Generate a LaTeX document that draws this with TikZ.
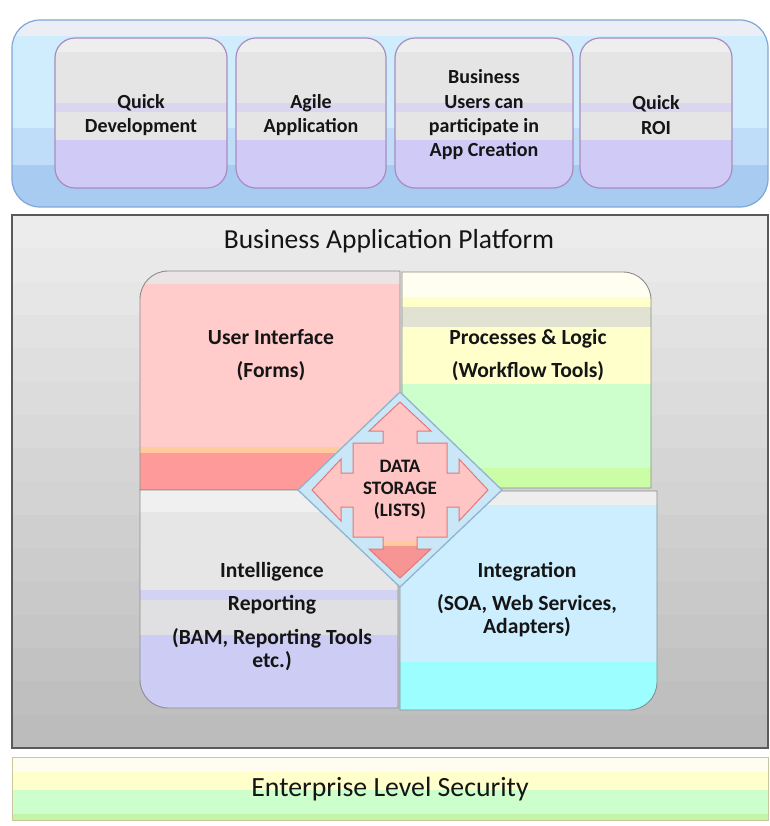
\documentclass[tikz,border=0pt]{standalone}
\usepackage{fontspec}
\setmainfont{Carlito}
\definecolor{txt}{HTML}{151515}
\definecolor{outeredge}{HTML}{7EA6D8}
\definecolor{outtop}{HTML}{EBEFF5}
\definecolor{outcyan}{HTML}{CFEDFD}
\definecolor{outmid}{HTML}{BFDDF8}
\definecolor{outbot}{HTML}{A8CBF1}
\definecolor{boxedge}{HTML}{A98BBF}
\definecolor{boxgray}{HTML}{E5E5E5}
\definecolor{boxtop}{HTML}{EEEEEE}
\definecolor{boxband}{HTML}{DAD6F0}
\definecolor{boxlav}{HTML}{CFCBF6}
\definecolor{gtop}{HTML}{ECECEC}
\definecolor{gbot}{HTML}{BCBCBC}
\definecolor{gedge}{HTML}{5A5A5A}
\definecolor{qedge}{HTML}{8C8C8C}
\definecolor{uitop}{HTML}{EAE4E4}
\definecolor{uipink}{HTML}{FFCBCB}
\definecolor{uiorange}{HTML}{FFCB9C}
\definecolor{uisalmon}{HTML}{FF9A9A}
\definecolor{plcream}{HTML}{FFFEF0}
\definecolor{plyel}{HTML}{FFFFCC}
\definecolor{plbeige}{HTML}{E2E2D2}
\definecolor{plgreen}{HTML}{CCFFCC}
\definecolor{pllime}{HTML}{CBFCA6}
\definecolor{irtop}{HTML}{F0F0F0}
\definecolor{irgray}{HTML}{E6E6E6}
\definecolor{irlav}{HTML}{D2D2F4}
\definecolor{irmid}{HTML}{E0E0E2}
\definecolor{irbot}{HTML}{CCCCF5}
\definecolor{intop}{HTML}{EEEEEE}
\definecolor{inblue}{HTML}{CCEEFF}
\definecolor{incyan}{HTML}{9CFEFE}
\definecolor{dfill}{HTML}{C9E7F7}
\definecolor{dedge}{HTML}{8DB5CF}
\definecolor{apink}{HTML}{FFC4C4}
\definecolor{aorange}{HTML}{FFCB9C}
\definecolor{asalmon}{HTML}{F79494}
\definecolor{aedge}{HTML}{E07A7A}
\definecolor{secedge}{HTML}{C8C89C}
\definecolor{sectop}{HTML}{FFFDF0}
\definecolor{secyel}{HTML}{FFFFCC}
\definecolor{secgreen}{HTML}{CCFFCC}
\definecolor{seclime}{HTML}{C4F4A8}
\begin{document}
\begin{tikzpicture}[x=1bp,y=-1bp,
  topboxedge/.style={draw=boxedge, line width=1.2bp, rounded corners=20bp},
  boxtext/.style={font=\bfseries\fontsize{20bp}{24.3bp}\selectfont, align=center, text=txt, inner sep=0pt},
  quadtext/.style={font=\bfseries\fontsize{21.6bp}{23bp}\selectfont, align=center, text=txt, inner sep=0pt},
  qborder/.style={draw=qedge, line width=0.9bp},
  bigtext/.style={font=\fontsize{27.5bp}{30bp}\selectfont, text=txt, inner sep=0pt},
]
\useasboundingbox (0,0) rectangle (770,826);
\fill[white] (0,0) rectangle (770,826);

% ---------- top container ----------
\begin{scope}
  \clip[rounded corners=28bp] (12,20) rectangle (768,207);
  \fill[outcyan] (12,20) rectangle (768,207);
  \fill[outtop] (12,20) rectangle (768,36);
  \fill[outmid] (12,128) rectangle (768,165);
  \fill[outbot] (12,165) rectangle (768,207);
\end{scope}
\draw[draw=outeredge, line width=1.2bp, rounded corners=28bp] (12,20) rectangle (768,207);

\foreach \n/\xa/\xb/\t in {qdev/55/227/{Quick\\Development},
                           agile/236/386/{Agile\\Application},
                           busu/395/573/{Business\\Users can\\participate in\\App Creation},
                           roi/580/732/{Quick\\ROI}} {
  \begin{scope}
    \clip[rounded corners=20bp] (\xa,38) rectangle (\xb,188);
    \fill[boxgray] (\xa,38) rectangle (\xb,188);
    \fill[boxtop] (\xa,38) rectangle (\xb,52);
    \fill[boxband] (\xa,103) rectangle (\xb,112);
    \fill[boxlav] (\xa,140) rectangle (\xb,188);
  \end{scope}
  \draw[topboxedge] (\xa,38) rectangle (\xb,188);
  \node[boxtext] (\n) at ({(\xa+\xb)/2},115) {\t};
}

% ---------- platform box ----------
\foreach \i in {0,...,15} {
  \pgfmathtruncatemacro\p{round(100*\i/15)}
  \fill[gbot!\p!gtop] (12,{215+\i*533/16}) rectangle (768,{215+(\i+1)*533/16+0.5});
}
\draw[draw=gedge, line width=1.5bp] (12,215) rectangle (768,748);
\node[bigtext] (title) at (389,241) {Business Application Platform};

% ---------- quadrants ----------
\def\pathUI{(400,490) -- (140,490) -- (140,299) arc[start angle=180,end angle=270,radius=28] -- (400,271) -- cycle}
\def\pathPL{(402,272) -- (623,272) arc[start angle=270,end angle=360,radius=28] -- (651,488) -- (402,488) -- cycle}
\def\pathIR{(140,490) -- (398,490) -- (398,708) -- (168,708) arc[start angle=90,end angle=180,radius=28] -- cycle}
\def\pathIN{(400,491) -- (657,491) -- (657,682) arc[start angle=0,end angle=90,radius=28] -- (400,710) -- cycle}

\begin{scope}
  \clip \pathUI;
  \fill[uipink] (130,260) rectangle (410,500);
  \fill[uitop] (130,260) rectangle (410,284);
  \fill[uiorange] (130,447) rectangle (410,453);
  \fill[uisalmon] (130,453) rectangle (410,500);
\end{scope}
\draw[qborder] \pathUI;

\begin{scope}
  \clip \pathPL;
  \fill[plcream] (395,260) rectangle (660,297);
  \fill[plyel] (395,297) rectangle (660,307);
  \fill[plbeige] (395,307) rectangle (660,327);
  \fill[plyel] (395,327) rectangle (660,384);
  \fill[plgreen] (395,384) rectangle (660,468);
  \fill[pllime] (395,468) rectangle (660,495);
\end{scope}
\draw[qborder] \pathPL;

\begin{scope}
  \clip \pathIR;
  \fill[irgray] (130,485) rectangle (405,720);
  \fill[irtop] (130,485) rectangle (405,512);
  \fill[irlav] (130,590) rectangle (405,600);
  \fill[irmid] (130,600) rectangle (405,635);
  \fill[irbot] (130,635) rectangle (405,720);
\end{scope}
\draw[qborder] \pathIR;

\begin{scope}
  \clip \pathIN;
  \fill[inblue] (395,485) rectangle (665,720);
  \fill[intop] (395,485) rectangle (665,505);
  \fill[incyan] (395,662) rectangle (665,720);
\end{scope}
\draw[qborder] \pathIN;

\node[quadtext] (ui) at (271,355) {User Interface\\[10bp](Forms)};
\node[quadtext] (pl) at (528,355) {Processes \& Logic\\[10bp](Workflow Tools)};
\node[quadtext] (ir) at (272,617) {Intelligence\\[10bp]Reporting\\[11bp](BAM, Reporting Tools\\etc.)};
\node[quadtext] (int) at (527,600) {Integration\\[10bp](SOA, Web Services,\\Adapters)};

% ---------- data storage diamond ----------
\draw[fill=dfill, draw=dedge, line width=1.3bp] (400,392) -- (502,490) -- (400,587) -- (298,490) -- cycle;
\begin{scope}[shift={(400,490)}]
  \def\arrowpath{(0,-88) -- (31,-59) -- (17,-59) -- (17,-47) -- (47,-47) -- (47,-17) -- (59,-17) -- (59,-31) -- (88,0) -- (59,31) -- (59,17) -- (47,17) -- (47,47) -- (17,47) -- (17,59) -- (31,59) -- (0,88) -- (-31,59) -- (-17,59) -- (-17,47) -- (-47,47) -- (-47,17) -- (-59,17) -- (-59,31) -- (-88,0) -- (-59,-31) -- (-59,-17) -- (-47,-17) -- (-47,-47) -- (-17,-47) -- (-17,-59) -- (-31,-59) -- cycle}
  \begin{scope}
    \clip \arrowpath;
    \fill[apink] (-90,-90) rectangle (90,90);
    \fill[aorange] (-90,52) rectangle (90,56);
    \fill[asalmon] (-90,56) rectangle (90,90);
  \end{scope}
  \draw[draw=aedge, line width=1bp, line join=miter] \arrowpath;
\end{scope}
\node[font=\bfseries\fontsize{19bp}{22bp}\selectfont, align=center, text=txt, inner sep=0pt] (ds) at (400,490) {DATA\\STORAGE\\(LISTS)};

% ---------- security bar ----------
\fill[sectop] (12,757) rectangle (768,820);
\fill[secyel] (12,772) rectangle (768,790);
\fill[secgreen] (12,790) rectangle (768,814);
\fill[seclime] (12,814) rectangle (768,820);
\draw[draw=secedge, line width=1bp] (12,757) rectangle (768,820);
\node[bigtext, font=\fontsize{27.8bp}{30bp}\selectfont] (sec) at (390,789) {Enterprise Level Security};
\end{tikzpicture}
\end{document}
